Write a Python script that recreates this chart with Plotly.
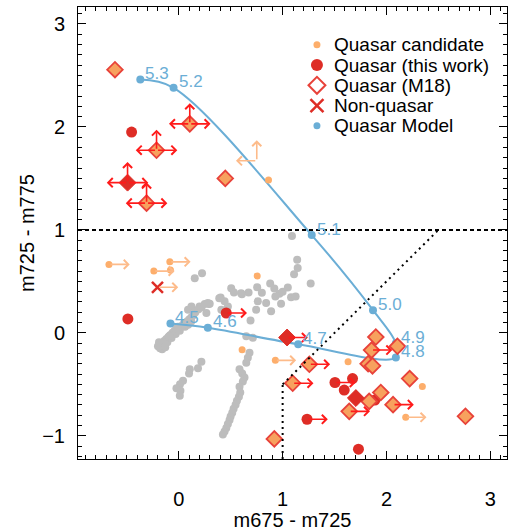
import plotly.graph_objects as go

# ---------------- data ----------------
# Quasar model track (redshift labels)
model_z = ["5.3", "5.2", "5.1", "5.0", "4.9", "4.8", "4.7", "4.6", "4.5"]
model_x = [-0.37, -0.05, 1.28, 1.87, 2.09, 2.09, 1.15, 0.28, -0.08]
model_y = [2.46, 2.38, 0.95, 0.22, -0.10, -0.24, -0.11, 0.05, 0.09]

# Field sources (grey)
field_x = [1.09, 1.14, 1.145, 1.11, 1.27, 0.88, 0.92, 1.05, 0.755, 0.80, 0.672, 0.608,
           0.505, 0.531, 0.969, 0.93, 1.081, 1.125, 0.841, 0.985, 0.889, 0.745, 0.761,
           0.403, 0.441, 0.298, 0.20, 0.154, 0.224, 0.122, 0.089, 0.266, 0.41, 0.473,
           0.691, 0.65, 0.713, 1.0, 0.60, 0.39, 0.29,
           -0.20, -0.18, -0.17, -0.15, -0.14, -0.12, -0.11, -0.10, -0.08, -0.07, -0.06,
           -0.04, -0.03, -0.02, 0.00, 0.01, 0.03, 0.05, 0.06, 0.08, 0.10, 0.12, 0.14,
           0.16, 0.19, 0.22, 0.25, 0.28, 0.12, 0.09, -0.16, -0.19, -0.13, -0.09, -0.01,
           0.218, 0.185, 0.106, 0.099, 0.041, 0.012, -0.022, 0.016, 0.01,
           0.681, 0.665, 0.65, 0.585, 0.611, 0.633, 0.617, 0.585, 0.592, 0.579, 0.56,
           0.547, 0.528, 0.515, 0.499, 0.489, 0.473, 0.458, 0.441, 0.425]
field_y = [0.94, 0.71, 0.63, 0.57, 0.48, 0.48, 0.43, 0.44, 0.444, 0.39, 0.392, 0.376,
           0.434, 0.392, 0.379, 0.354, 0.347, 0.354, 0.289, 0.283, 0.209, 0.225, 0.306,
           0.344, 0.306, 0.283, 0.257, 0.53, 0.579, 0.257, 0.225, 0.193, 0.225, 0.257,
           0.119, -0.032, -0.048, 0.40, 0.386, 0.337, 0.28,
           -0.13, -0.15, -0.10, -0.12, -0.08, -0.06, -0.09, -0.04, -0.02, -0.05, 0.00,
           0.02, -0.01, 0.04, 0.05, 0.02, 0.07, 0.09, 0.06, 0.11, 0.13, 0.15, 0.17,
           0.20, 0.23, 0.25, 0.28, 0.29, 0.11, 0.08, -0.16, -0.09, -0.14, -0.03, 0.06,
           -0.28, -0.344, -0.354, -0.395, -0.466, -0.50, -0.537, -0.562, -0.61,
           -0.193, -0.241, -0.289, -0.354, -0.395, -0.434, -0.473, -0.524, -0.579, -0.62,
           -0.659, -0.697, -0.736, -0.775, -0.813, -0.846, -0.884, -0.923, -0.958, -0.987]

# Quasar candidates; flag = lower limit in colour (arrow to the right)
cand_x = [0.864, 0.755, 0.61, 1.63, 2.345, -0.672, -0.086, -0.08, -0.24, 0.93, 2.185]
cand_y = [1.485, 0.553, -0.164, -0.28, -0.521, 0.665, 0.69, 0.61, 0.60, -0.267, -0.82]
cand_xlim = [0, 0, 0, 0, 0, 1, 1, 0, 1, 1, 1]
# candidate with upper limit in x and lower limit in y (limits only)
candlim_x = [0.751]
candlim_y = [1.671]

# Quasars confirmed in this work (circles)
qso_x = [-0.454, -0.49, 0.457, 1.504, 1.673, 1.593, 1.888, 1.235, 1.73]
qso_y = [1.95, 0.135, 0.193, -0.482, -0.444, -0.556, -0.653, -0.839, -1.13]
qso_xlim = [0, 0, 1, 1, 0, 0, 0, 1, 0]

# Quasars in this work also in M18 (filled diamonds); flags: right, left, up
qsod_x = [-0.493, 1.043, 1.705]
qsod_y = [1.459, -0.045, -0.633]
qsod_right = [1, 1, 0]
qsod_left = [1, 0, 0]
qsod_up = [1, 0, 0]

# Quasars from M18 (diamonds)
m18_x = [-0.614, 0.106, -0.214, -0.31, 0.448, 1.097, 0.92, 1.897, 1.856, 2.105, 1.257,
         1.823, 1.865, 1.945, 2.223, 1.833, 2.063, 1.641, 2.76]
m18_y = [2.556, 2.03, 1.774, 1.26, 1.50, -0.489, -1.03, -0.04, -0.167, -0.13, -0.305,
         -0.30, -0.32, -0.579, -0.444, -0.665, -0.697, -0.762, -0.81]
m18_right = [0, 1, 1, 1, 0, 1, 0, 0, 1, 0, 1, 0, 0, 0, 0, 0, 1, 1, 0]
m18_left = [0, 1, 1, 1, 0, 0, 0, 0, 0, 0, 0, 0, 0, 0, 0, 0, 0, 0, 0]
m18_up = [0, 1, 1, 1, 0, 0, 0, 0, 0, 0, 0, 0, 0, 0, 0, 0, 0, 0, 0]

# Non-quasar
nonq_x = [-0.205]
nonq_y = [0.443]
nonq_xlim = [1]

# Selection cuts
cut_y = 1.0          # m725 - m775 > 1
cut_x = 1.0          # m675 - m725 > 1
cut_offset = 1.5     # y > x - 1.5

legend_labels = ["Quasar candidate", "Quasar (this work)", "Quasar (M18)",
                 "Non-quasar", "Quasar Model"]

# ---------------- style ----------------
FONT = "Liberation Sans, Arial, sans-serif"
C_GREY = "#bdbdbd"
C_CAND = "#fdae6b"
C_CAND_ARROW = "#fdbb8a"
C_RED = "#de2d26"
C_ARROW = "#ff1a1a"
C_DIAM_FILL = "#f7a15e"
C_DIAM_EDGE = "#e8423a"
C_MODEL = "#6baed6"
ARROW_LEN = 0.2
XR = [-0.97, 3.16]
YR = [-1.225, 3.165]

fig = go.Figure()

fig.add_trace(go.Scatter(x=field_x, y=field_y, mode="markers",
                         marker=dict(color=C_GREY, size=8), showlegend=False))

# model track
fig.add_trace(go.Scatter(x=model_x, y=model_y, mode="lines+markers",
                         line=dict(color=C_MODEL, width=2, shape="spline", smoothing=1.0),
                         marker=dict(color=C_MODEL, size=8), showlegend=False))

fig.add_trace(go.Scatter(x=cand_x, y=cand_y, mode="markers",
                         marker=dict(color=C_CAND, size=7), showlegend=False))
fig.add_trace(go.Scatter(x=qso_x, y=qso_y, mode="markers",
                         marker=dict(color=C_RED, size=11), showlegend=False))
fig.add_trace(go.Scatter(x=m18_x, y=m18_y, mode="markers",
                         marker=dict(symbol="diamond", color=C_DIAM_FILL, size=12,
                                     line=dict(color=C_DIAM_EDGE, width=1.8)),
                         showlegend=False))
fig.add_trace(go.Scatter(x=qsod_x, y=qsod_y, mode="markers",
                         marker=dict(symbol="diamond", color=C_RED, size=13,
                                     line=dict(color=C_RED, width=1)),
                         showlegend=False))
fig.add_trace(go.Scatter(x=nonq_x, y=nonq_y, mode="markers",
                         marker=dict(symbol="x-thin", size=11,
                                     line=dict(color=C_RED, width=2.5)),
                         showlegend=False))

annotations = []


def arrow(x0, y0, dx, dy, color):
    annotations.append(dict(x=x0 + dx, y=y0 + dy, ax=x0, ay=y0, xref="x", yref="y",
                            axref="x", ayref="y", text="", showarrow=True,
                            arrowhead=4, arrowsize=1.1, arrowwidth=1.6,
                            arrowcolor=color, standoff=0, startstandoff=0))


for x, y, f in zip(cand_x, cand_y, cand_xlim):
    if f:
        arrow(x, y, ARROW_LEN, 0, C_CAND_ARROW)
for x, y in zip(candlim_x, candlim_y):
    arrow(x, y, -ARROW_LEN, 0, C_CAND_ARROW)
    arrow(x, y, 0, ARROW_LEN, C_CAND_ARROW)
for x, y, f in zip(nonq_x, nonq_y, nonq_xlim):
    if f:
        arrow(x, y, ARROW_LEN, 0, C_CAND_ARROW)
for x, y, f in zip(qso_x, qso_y, qso_xlim):
    if f:
        arrow(x, y, ARROW_LEN, 0, C_ARROW)
for xs, ys, rs, ls, us in ((qsod_x, qsod_y, qsod_right, qsod_left, qsod_up),
                           (m18_x, m18_y, m18_right, m18_left, m18_up)):
    for x, y, r, l, u in zip(xs, ys, rs, ls, us):
        if r:
            arrow(x, y, ARROW_LEN, 0, C_ARROW)
        if l:
            arrow(x, y, -ARROW_LEN, 0, C_ARROW)
        if u:
            arrow(x, y, 0, ARROW_LEN, C_ARROW)

# redshift labels along the model track
for x, y, z in zip(model_x, model_y, model_z):
    annotations.append(dict(x=x, y=y, xref="x", yref="y", text=z, showarrow=False,
                            xanchor="left", yanchor="middle", xshift=3, yshift=6,
                            font=dict(family=FONT, size=17, color=C_MODEL)))

# selection cuts
shapes = [
    dict(type="line", xref="x", yref="y", x0=XR[0], x1=XR[1], y0=cut_y, y1=cut_y,
         line=dict(color="black", width=2, dash="4px,3px")),
    dict(type="line", xref="x", yref="y", x0=cut_x, x1=cut_x, y0=YR[0],
         y1=cut_x - cut_offset, line=dict(color="black", width=2, dash="2px,4px")),
    dict(type="line", xref="x", yref="y", x0=cut_x, x1=cut_y + cut_offset,
         y0=cut_x - cut_offset, y1=cut_y, line=dict(color="black", width=2, dash="2px,4px")),
]

# legend drawn on a hidden overlay axis
leg_x_sym = 0.557
leg_x_txt = 0.591
leg_rows = [0.9165, 0.8716, 0.8268, 0.7820, 0.7371]
leg_markers = [
    dict(color=C_CAND, size=7),
    dict(color=C_RED, size=12),
    dict(symbol="diamond-open", color=C_DIAM_EDGE, size=13, line=dict(width=2)),
    dict(symbol="x-thin", size=13, line=dict(color=C_RED, width=2.5)),
    dict(color=C_MODEL, size=7),
]
for yy, mk in zip(leg_rows, leg_markers):
    fig.add_trace(go.Scatter(x=[leg_x_sym], y=[yy], xaxis="x2", yaxis="y2",
                             mode="markers", marker=mk, showlegend=False,
                             cliponaxis=False, hoverinfo="skip"))
for yy, lab in zip(leg_rows, legend_labels):
    annotations.append(dict(x=leg_x_txt, y=yy, xref="paper", yref="paper", text=lab,
                            showarrow=False, xanchor="left", yanchor="middle",
                            font=dict(family=FONT, size=19, color="black")))

axis_common = dict(showgrid=False, zeroline=False, showline=True, mirror="allticks",
                   linecolor="black", linewidth=1, ticks="inside", ticklen=8,
                   tickwidth=1, tickcolor="black", dtick=1,
                   tickfont=dict(family=FONT, size=20, color="black"),
                   minor=dict(ticks="inside", ticklen=4, tickcolor="black",
                              dtick=0.1, showgrid=False))

fig.update_layout(
    width=512, height=531,
    margin=dict(l=78, r=4, t=7, b=69),
    plot_bgcolor="white", paper_bgcolor="white",
    showlegend=False,
    xaxis=dict(range=XR, tick0=0, ticklabelstandoff=22,
               title=dict(text="m675 - m725", standoff=3,
                          font=dict(family=FONT, size=20, color="black")),
               **axis_common),
    yaxis=dict(range=YR, tick0=0, ticklabelstandoff=8,
               title=dict(text="m725 - m775", standoff=2,
                          font=dict(family=FONT, size=20, color="black")),
               **axis_common),
    xaxis2=dict(range=[0, 1], overlaying="x", visible=False, fixedrange=True),
    yaxis2=dict(range=[0, 1], overlaying="y", visible=False, fixedrange=True),
    shapes=shapes,
    annotations=annotations,
)

fig.write_html("out.html")
